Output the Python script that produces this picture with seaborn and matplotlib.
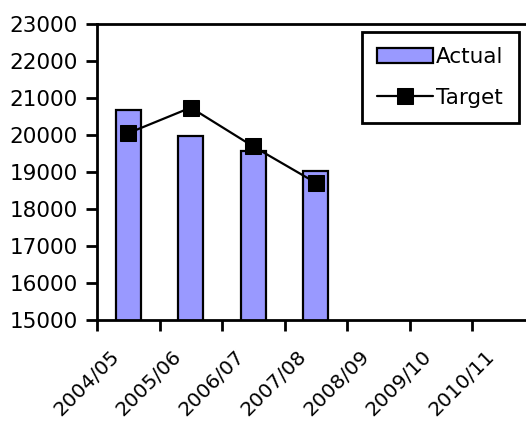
import matplotlib
matplotlib.use("Agg")
import matplotlib.pyplot as plt
import matplotlib.transforms as mtransforms
import seaborn as sns
import pandas as pd
import numpy as np
from matplotlib.ticker import FixedLocator, NullFormatter

categories = ["2004/05", "2005/06", "2006/07", "2007/08", "2008/09", "2009/10", "2010/11"]
actual_years = ["2004/05", "2005/06", "2006/07", "2007/08"]
actual = [20680, 19960, 19570, 19030]
target = [20050, 20740, 19690, 18710]
y_ticks = [15000, 16000, 17000, 18000, 19000, 20000, 21000, 22000, 23000]

sns.set_theme(style="white")
plt.rcParams["font.family"] = ["DejaVu Sans"]
plt.rcParams["text.color"] = "black"
plt.rcParams["xtick.color"] = "black"
plt.rcParams["ytick.color"] = "black"

FS = 15.5
FS_X = 14.5

fig = plt.figure(figsize=(5.26, 4.21), dpi=100)
ax_w = 534.5 - 97
ax = fig.add_axes([97 / 526, 1 - 320 / 421, ax_w / 526, (320 - 24) / 421])

df = pd.DataFrame({"year": actual_years, "Actual": actual, "Target": target})

sns.barplot(data=df, x="year", y="Actual", order=categories, color="#9999FF",
            saturation=1, width=0.4, edgecolor="black", linewidth=1.6,
            label="Actual", ax=ax, zorder=2)

pos = [categories.index(c) for c in actual_years]
tdf = pd.DataFrame({"pos": pos, "Target": target})
sns.lineplot(data=tdf, x="pos", y="Target", color="black", linewidth=1.6,
             marker="s", markersize=11, markeredgecolor="black",
             label="Target", ax=ax, zorder=3)

ax.set_xlim(-0.5, len(categories) - 0.5)
ax.set_ylim(15000, 23000)
ax.set_yticks(y_ticks)
ax.set_yticklabels([str(v) for v in y_ticks])

# tick marks sit on the category boundaries; labels are placed under the centres
ax.xaxis.set_major_locator(FixedLocator(np.arange(-0.5, len(categories), 1.0)))
ax.xaxis.set_major_formatter(NullFormatter())
ax.tick_params(axis="x", which="major", length=8, width=2, direction="out",
               color="black", bottom=True)
ax.tick_params(axis="y", length=8, width=2, direction="out", color="black",
               labelsize=FS, pad=6, left=True)

label_tf = ax.get_xaxis_transform() + mtransforms.ScaledTranslation(
    -12 / 100, -33 / 100, fig.dpi_scale_trans)
for i, cat in enumerate(categories):
    ax.text(i, 0, cat, transform=label_tf, rotation=45, ha="right", va="center",
            rotation_mode="anchor", fontsize=FS_X, color="black", clip_on=False)

ax.set_xlabel("")
ax.set_ylabel("")

for side in ["left", "bottom", "top", "right"]:
    ax.spines[side].set_visible(True)
    ax.spines[side].set_color("black")
    ax.spines[side].set_linewidth(2)

handles, labels = ax.get_legend_handles_labels()
order = [labels.index("Actual"), labels.index("Target")]
leg = ax.legend([handles[i] for i in order], [labels[i] for i in order],
                loc="upper left",
                bbox_to_anchor=((362 - 97) / ax_w, 1 - 8 / 296),
                frameon=True, fancybox=False, framealpha=1, edgecolor="black",
                fontsize=FS, borderpad=0.7, labelspacing=0.95, handlelength=2.6,
                handletextpad=0.15, borderaxespad=0)
leg.get_frame().set_linewidth(2)

fig.savefig("out.png", dpi=100, facecolor="white")
